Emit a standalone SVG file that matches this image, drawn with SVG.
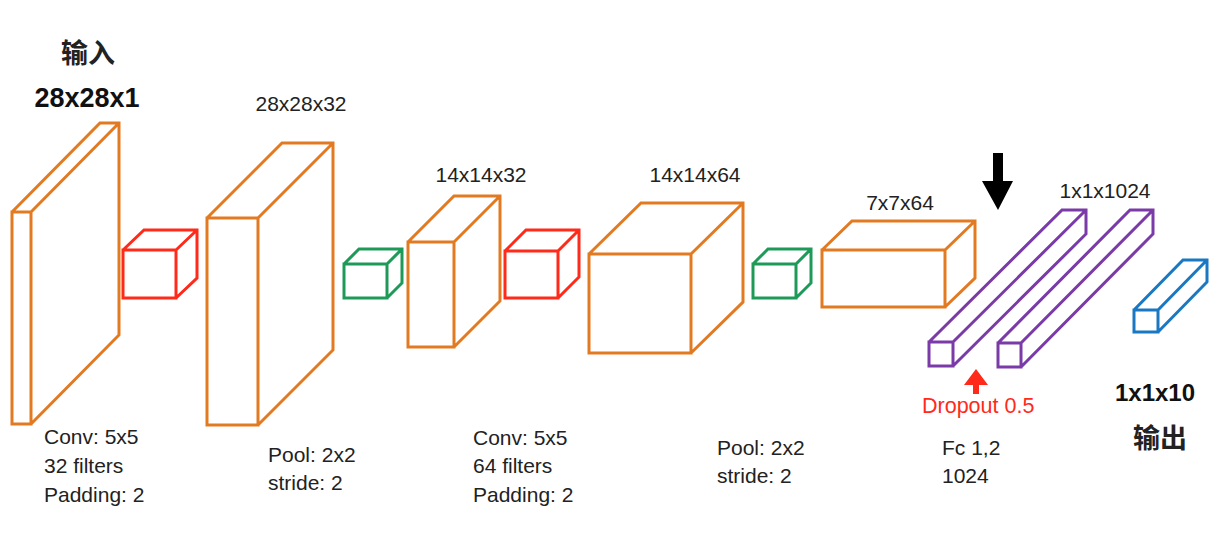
<svg xmlns="http://www.w3.org/2000/svg" width="1227" height="558" viewBox="0 0 1227 558">
<style>
.t{font-family:"Liberation Sans",Arial,sans-serif;fill:#222;font-size:21px}
.c{text-anchor:middle;font-size:21px}
.b{font-weight:bold;fill:#111;text-anchor:middle}
.b1{font-size:27px}
.b2{font-size:24px}
.dr{fill:#FF2A1A;font-size:21.5px}
.cjk{font-family:"Liberation Sans","Noto Sans CJK SC",sans-serif;font-weight:bold;fill:#222;text-anchor:middle;font-size:27px}
.box{fill:none;stroke-width:3;stroke-linejoin:miter}
.or{stroke:#E27A22}
.rd{stroke:#FF2A1A}
.gr{stroke:#1E9A58}
.pu{stroke:#7A3AA8}
.bl{stroke:#1A78C2}
</style>
<rect width="1227" height="558" fill="#fff"/>
<g id="input"><path class="box or" d="M12 212h19v212h-19Z M12 212l88 -89h19v212l-88 89 M31 212l88 -89"/>
<text class="cjk" x="88" y="63">输入</text>
<text class="t b b1" x="87" y="107">28x28x1</text></g>
<g id="conv1"><path class="box rd" d="M123 250h53v48h-53Z M123 250l21 -20h53v48l-21 20 M176 250l21 -20"/>
<text class="t" x="44" y="444">Conv: 5x5</text><text class="t" x="44" y="473">32 filters</text><text class="t" x="44" y="502">Padding: 2</text></g>
<g id="fmap1"><path class="box or" d="M207 218h51v207h-51Z M207 218l75 -75h51v207l-75 75 M258 218l75 -75"/>
<text class="t c" x="301" y="111">28x28x32</text></g>
<g id="pool1"><path class="box gr" d="M344 264h43v34h-43Z M344 264l15 -15h43v34l-15 15 M387 264l15 -15"/>
<text class="t" x="268" y="462">Pool: 2x2</text><text class="t" x="268" y="490">stride: 2</text></g>
<g id="fmap2"><path class="box or" d="M408 242h46v105h-46Z M408 242l46 -46h46v105l-46 46 M454 242l46 -46"/>
<text class="t c" x="481" y="182">14x14x32</text></g>
<g id="conv2"><path class="box rd" d="M505 251h53v47h-53Z M505 251l21 -21h53v47l-21 21 M558 251l21 -21"/>
<text class="t" x="473" y="445">Conv: 5x5</text><text class="t" x="473" y="473">64 filters</text><text class="t" x="473" y="502">Padding: 2</text></g>
<g id="fmap3"><path class="box or" d="M589 254h102v99h-102Z M589 254l52 -51h102v99l-52 51 M691 254l52 -51"/>
<text class="t c" x="695" y="182">14x14x64</text></g>
<g id="pool2"><path class="box gr" d="M753 264h43v34h-43Z M753 264l15 -15h43v34l-15 15 M796 264l15 -15"/>
<text class="t" x="717" y="455">Pool: 2x2</text><text class="t" x="717" y="483">stride: 2</text></g>
<g id="fmap4"><path class="box or" d="M822 250h123v57h-123Z M822 250l30 -29h123v57l-30 29 M945 250l30 -29"/>
<text class="t c" x="900" y="210">7x7x64</text></g>
<g id="fc1"><path class="box pu" d="M929 342h24v24h-24Z M929 342l133 -132h24v24l-133 132 M953 342l133 -132"/></g>
<g id="fc2"><path class="box pu" d="M998 343h23v24h-23Z M998 343l132 -133h23v24l-132 133 M1021 343l132 -133"/>
<text class="t c" x="1105" y="198">1x1x1024</text>
<text class="t" x="942" y="455">Fc 1,2</text><text class="t" x="942" y="483">1024</text></g>
<g id="output"><path class="box bl" d="M1134 310h24v22h-24Z M1134 310l49 -50h24v22l-49 50 M1158 310l49 -50"/>
<text class="t b b2" x="1155" y="401">1x1x10</text>
<text class="cjk" x="1160" y="448">输出</text></g>
<g id="connectors">
<polygon fill="#000" points="993,153 1003,153 1003,181 1013,181 998,210 982,181 993,181"/>
<polygon fill="#FF2A1A" points="976,369 988,385 979,385 979,394 973,394 973,385 964,385"/>
<text class="t dr" x="922" y="413">Dropout 0.5</text>
</g>
</svg>
